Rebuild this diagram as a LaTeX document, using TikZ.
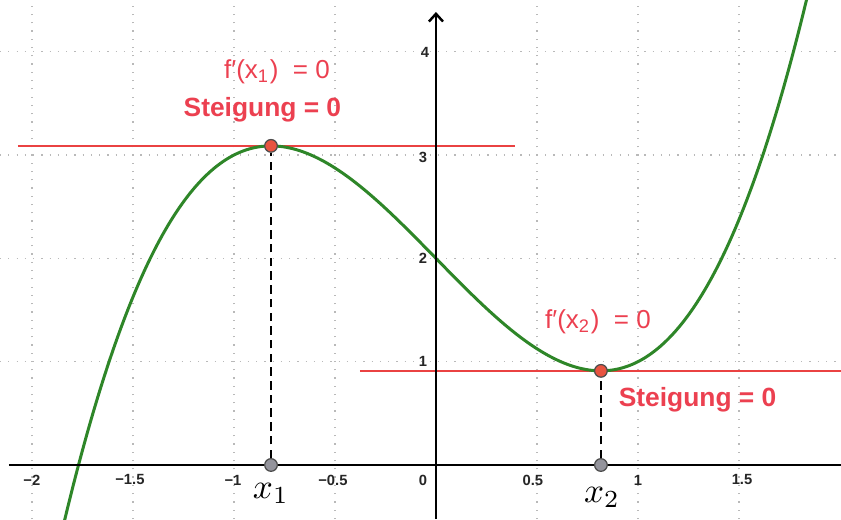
\documentclass[tikz,border=0pt]{standalone}
\usepackage{fontspec}
\newfontfamily\lab{Liberation Sans}
\usetikzlibrary{arrows.meta}
\definecolor{ggred}{RGB}{234,66,66}
\definecolor{ggtext}{RGB}{236,64,80}
\definecolor{gggreen}{RGB}{46,134,40}
\definecolor{gggrid}{RGB}{185,185,185}
\definecolor{ggpoint}{RGB}{148,148,156}
\definecolor{ggdot}{RGB}{232,84,64}
\tikzset{
  gridline/.style={gggrid, line width=0.35pt, dotted},
  axisline/.style={black, line width=0.75pt},
  tangent/.style={ggred, line width=0.7pt},
  curveline/.style={gggreen, line width=0.85pt},
  dashline/.style={black, line width=0.75pt, dash pattern=on 2.4pt off 1.5pt},
  redpt/.style={circle, inner sep=0pt, minimum size=3.6pt, fill=ggdot, draw=black!70, line width=0.35pt},
  graypt/.style={circle, inner sep=0pt, minimum size=3.6pt, fill=ggpoint, draw=black!70, line width=0.35pt},
  ticklab/.style={font=\lab\bfseries\fontsize{4.2}{5}\selectfont, text=black!85, inner sep=0pt},
  redlab/.style={font=\lab\fontsize{7.4}{9}\selectfont, text=ggtext, inner sep=0pt},
  redbold/.style={font=\lab\bfseries\fontsize{7.5}{9}\selectfont, text=ggtext, inner sep=0pt},
  xlab/.style={font=\fontsize{10}{12}\selectfont, inner sep=0pt, anchor=base}
}
\begin{document}
\begin{tikzpicture}[x=2.02cm,y=1.033cm]
\useasboundingbox (-2.158,-0.523) rectangle (2.005,4.501);
\fill[white] (-2.158,-0.523) rectangle (2.005,4.501);
% grid
\foreach \gx in {-2,-1.5,-1,-0.5,0.5,1,1.5}
  \draw[gridline] (\gx,-0.523) -- (\gx,4.501);
\foreach \gy in {1,2,3,4}
  \draw[gridline] (-2.158,\gy) -- (2.005,\gy);
% tangent lines
\coordinate (t1a) at (-2.07,3.089);
\coordinate (t1b) at (0.391,3.089);
\coordinate (t2a) at (-0.376,0.911);
\coordinate (t2b) at (2.005,0.911);
\draw[tangent] (t1a) -- (t1b);
\draw[tangent] (t2a) -- (t2b);
% curve
\begin{scope}
\clip (-2.158,-0.523) rectangle (2.005,4.501);
\draw[curveline] plot[domain=-1.9:1.87, samples=150, smooth] (\x,{\x*\x*\x-2*\x+2});
\end{scope}
% axes
\coordinate (xl) at (-2.114,0);
\coordinate (xr) at (2.005,0);
\coordinate (yb) at (0,-0.523);
\coordinate (yt) at (0,4.385);
\draw[axisline] (xl) -- (xr);
\draw[axisline, -{Straight Barb[length=2.2pt,width=4pt,line width=0.7pt]}] (yb) -- (yt);
% tick labels
\node[ticklab] (lm2) at (-2,-0.145) {−2};
\node[ticklab] (lm15) at (-1.515,-0.145) {−1.5};
\node[ticklab] (lm1) at (-1.005,-0.145) {−1};
\node[ticklab] (lm05) at (-0.51,-0.145) {−0.5};
\node[ticklab] (l0) at (-0.064,-0.145) {0};
\node[ticklab] (l05) at (0.48,-0.145) {0.5};
\node[ticklab] (l1) at (1.0,-0.145) {1};
\node[ticklab] (l15) at (1.515,-0.145) {1.5};
\node[ticklab] (ly1) at (-0.064,1.0) {1};
\node[ticklab] (ly2) at (-0.064,2.0) {2};
\node[ticklab] (ly3) at (-0.064,2.98) {3};
\node[ticklab] (ly4) at (-0.054,3.99) {4};
% points
\node[graypt] (a1) at (-0.8165,0) {};
\node[graypt] (a2) at (0.8165,0) {};
\node[redpt] (m1) at (-0.8165,3.089) {};
\node[redpt] (m2) at (0.8165,0.911) {};
\draw[dashline] (a1) -- (m1);
\draw[dashline] (a2) -- (m2);
% labels
\node[redlab] (f1) at (-0.787,3.804) {f′(x\textsubscript{1})\ \ = 0};
\node[redbold] (s1) at (-0.859,3.437) {Steigung = 0};
\node[redlab] (f2) at (0.802,1.384) {f′(x\textsubscript{2})\ \ = 0};
\node[redbold] (s2) at (1.295,0.629) {Steigung = 0};
\node[xlab] (x1) at (-0.817,-0.32) {$x_1$};
\node[xlab] (x2) at (0.822,-0.36) {$x_2$};
\end{tikzpicture}
\end{document}
